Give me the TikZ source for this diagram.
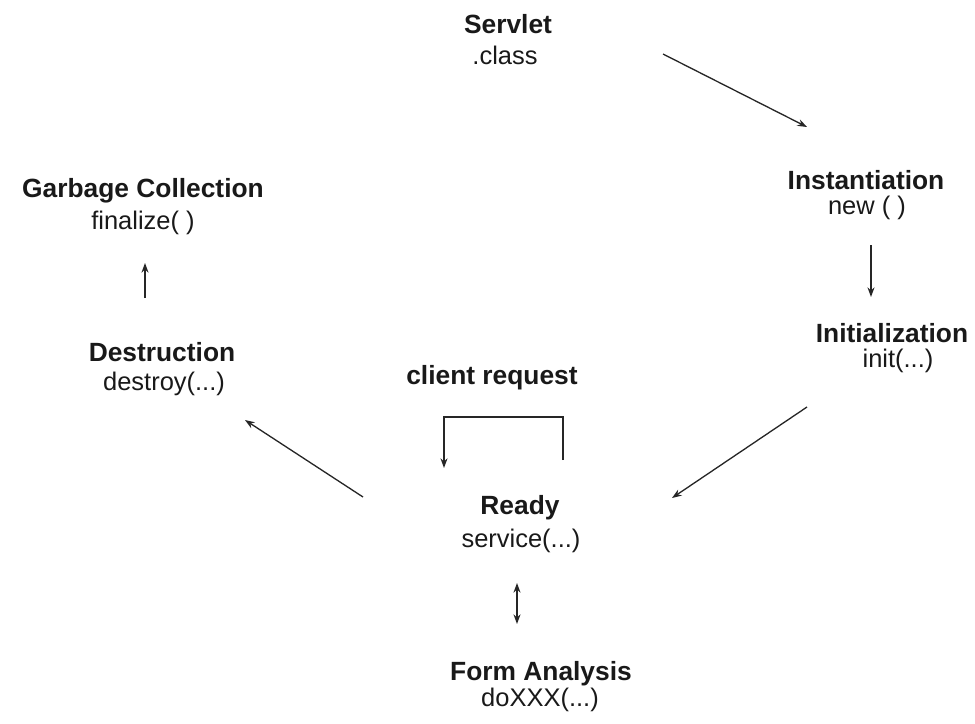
\documentclass[tikz,border=0pt]{standalone}
\usepackage{fontspec}
\setmainfont{Liberation Sans}
\usetikzlibrary{arrows.meta}

\begin{document}
\begin{tikzpicture}[x=0.02cm,y=-0.02cm,
            every node/.style={inner sep=0pt, anchor=base, text=black!90, font=\fontsize{14.5}{17}\selectfont},
            statename/.style={font=\fontsize{15}{17}\selectfont\bfseries},
            flow/.style={black!85, line width=0.75pt, -{Stealth[length=5.5pt,width=4pt]}},
            bothflow/.style={flow, {Stealth[length=5.5pt,width=4pt]}-{Stealth[length=5.5pt,width=4pt]}}]
            \useasboundingbox (0,0) rectangle (975,724);
            % states
            \node [statename] (servlet) at (508,33) {Servlet};
            \node (servletm) at (505,64) {.class};
            \node [statename] (inst) at (866,189) {Instantiation};
            \node (instm) at (867,214) {new ( )};
            \node [statename] (init) at (892,342) {Initialization};
            \node (initm) at (898,367) {init(...)};
            \node [statename] (ready) at (520,514) {Ready};
            \node (readym) at (521,547) {service(...)};
            \node [statename] (form) at (541,680) {Form Analysis};
            \node (formm) at (540,706) {doXXX(...)};
            \node [statename] (destr) at (162,361) {Destruction};
            \node (destrm) at (164,390) {destroy(...)};
            \node [statename] (garb) at (143,197) {Garbage Collection};
            \node (garbm) at (143,229) {finalize( )};
            \node [statename] (request) at (492,384) {client request};
            % arrow ends
            \coordinate (s1) at (663,54);   \coordinate (e1) at (807,127);
            \coordinate (s2) at (871,245);  \coordinate (e2) at (871,297);
            \coordinate (s3) at (807,407);  \coordinate (e3) at (672,498);
            \coordinate (s4) at (563,460);  \coordinate (e4) at (444,468);
            \coordinate (s5) at (517,583);  \coordinate (e5) at (517,624);
            \coordinate (s6) at (363,497);  \coordinate (e6) at (245,420);
            \coordinate (s7) at (145,298);  \coordinate (e7) at (145,263);
            % connectors
            \draw [flow] (s1) -- (e1);
            \draw [flow] (s2) -- (e2);
            \draw [flow] (s3) -- (e3);
            \draw [flow] (s4) -- (563,417) -- (444,417) -- (e4);
            \draw [bothflow] (s5) -- (e5);
            \draw [flow] (s6) -- (e6);
            \draw [flow] (s7) -- (e7);
\end{tikzpicture}
\end{document}
